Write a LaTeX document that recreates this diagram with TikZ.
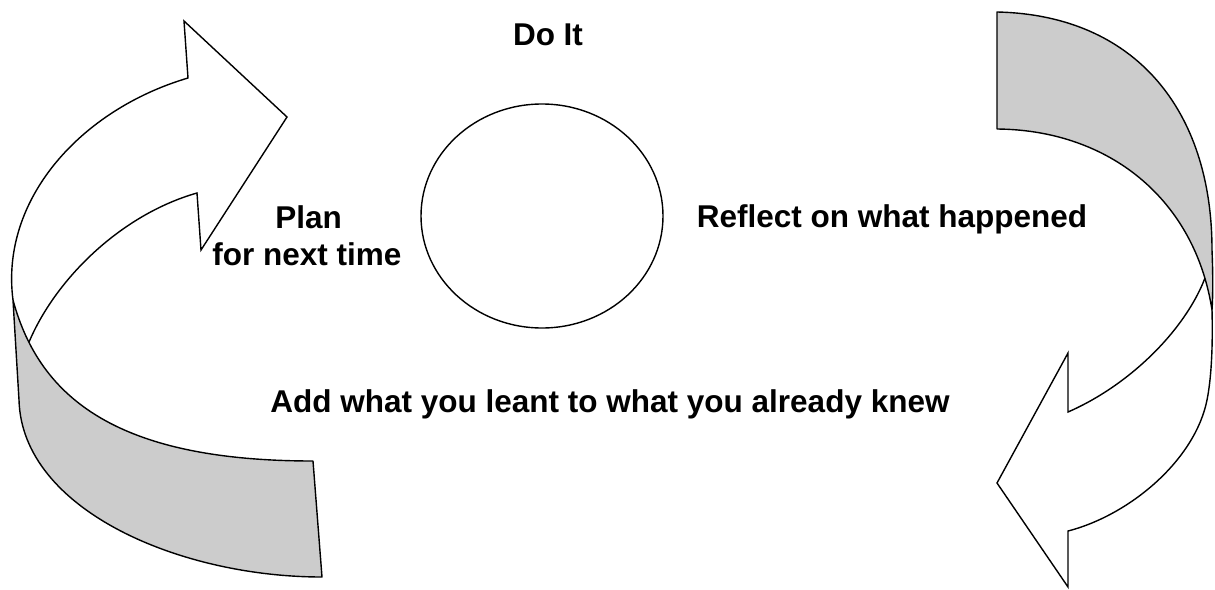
\documentclass[tikz,border=0pt]{standalone}
\usepackage{fontspec}
\setmainfont{Liberation Sans}
\usetikzlibrary{shapes}
\definecolor{bandgray}{RGB}{204,204,204}
\tikzstyle{band} = [draw=black, fill=bandgray, line width=0.7pt, line join=round]
\tikzstyle{arrowbody} = [draw=black, line width=0.7pt, line join=miter]
\tikzstyle{caption} = [font=\fontsize{15.75}{19}\selectfont\bfseries,
inner sep=0pt, anchor=base]
\tikzstyle{hub} = [ellipse, draw=black, line width=0.7pt, minimum width=121pt,
minimum height=112pt, inner sep=0pt]

\begin{document}
\begin{tikzpicture}[x=0.5pt, y=-0.5pt]
  \useasboundingbox (0,0) rectangle (1215,589);
  % left arrow
  \draw[band] (13,300) -- (19,400) .. controls (22,510) and (180,577) .. (322,577)
    -- (313,461) .. controls (120,461) and (40,400) .. (13,300)
    coordinate[pos=0.85] (ljoin) -- cycle;
  \draw[arrowbody] (ljoin) .. controls (55,280) and (120,215) .. (197,193)
    -- (201,250) -- (287,117) -- (184,21) -- (188,78)
    .. controls (80,110) and (0,200) .. (13,300);
  % right arrow
  \draw[band] (997,129) -- (997,12) .. controls (1135,15) and (1212,110) .. (1212,250)
    .. controls (1213,275) and (1213,295) .. (1212,310)
    .. controls (1195,200) and (1110,130) .. (997,129)
    coordinate[pos=0.1] (rjoin) -- cycle;
  \draw[arrowbody] (rjoin) .. controls (1185,330) and (1130,385) .. (1068,412)
    -- (1068,353) -- (997,483) -- (1068,587) -- (1068,531)
    .. controls (1130,515) and (1195,460) .. (1207,400)
    .. controls (1211,380) and (1213,350) .. (1212,310);
  % centre and labels
  \node[hub] (hub) at (542,216) {};
  \node[caption] (doit) at (548,45) {Do It};
  \node[caption] (reflect) at (892,227) {Reflect on what happened};
  \node[caption, anchor=base west] (plan) at (275,228) {Plan};
  \node[caption, anchor=base west] (nexttime) at (212,265) {for next time};
  \node[caption] (learnt) at (610,412) {Add what you leant to what you already knew};
\end{tikzpicture}
\end{document}
